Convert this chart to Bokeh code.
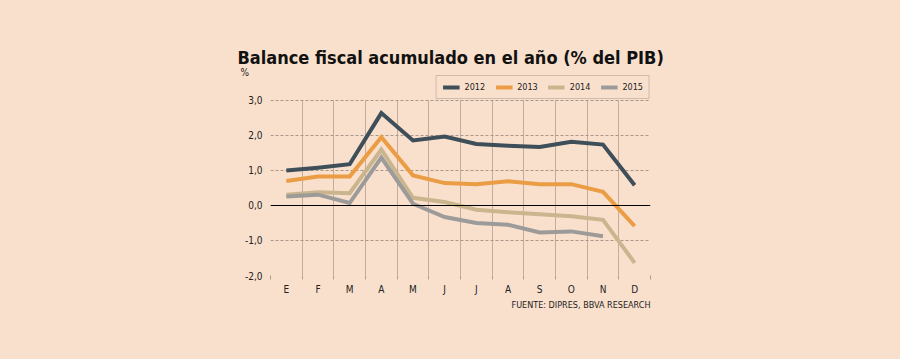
from bokeh.plotting import figure
from bokeh.models import FixedTicker, Span, Legend, LegendItem, Title
from bokeh.embed import file_html
from bokeh.resources import INLINE

months = ["E", "F", "M", "A", "M", "J", "J", "A", "S", "O", "N", "D"]
y2012 = [1.00, 1.08, 1.18, 2.64, 1.86, 1.97, 1.76, 1.71, 1.67, 1.82, 1.74, 0.58]
y2013 = [0.70, 0.83, 0.83, 1.95, 0.86, 0.64, 0.61, 0.69, 0.61, 0.61, 0.39, -0.59]
y2014 = [0.31, 0.38, 0.35, 1.60, 0.22, 0.10, -0.12, -0.19, -0.25, -0.31, -0.41, -1.64]
y2015 = [0.26, 0.31, 0.07, 1.37, 0.05, -0.33, -0.50, -0.55, -0.77, -0.74, -0.88]
yticks = [-2, -1, 0, 1, 2, 3]
ytick_labels = ["-2,0", "-1,0", "0,0", "1,0", "2,0", "3,0"]

series = [("2012", y2012, "#3e4f5a"), ("2013", y2013, "#eb9d45"),
          ("2014", y2014, "#c9b58e"), ("2015", y2015, "#9d9b9a")]

BG = "#f9e0cc"
FONT = "DejaVu Sans Condensed"
TXT = "#222222"

# frame spans the plotted area plus a strip on top that holds the legend
p = figure(frame_width=380, frame_height=200, x_range=(0, 12), y_range=(-2, 3.714),
           output_backend="svg", toolbar_location=None,
           min_border_left=270, min_border_right=250, min_border_top=75, min_border_bottom=84,
           background_fill_color=BG, border_fill_color=BG, outline_line_color=None)

xc = [i + 0.5 for i in range(12)]
items = []
for name, vals, col in series:
    r = p.line(xc[:len(vals)], vals, line_color=col, line_width=4, line_join="miter")
    items.append(LegendItem(label=name, renderers=[r]))

p.add_layout(Span(location=0, dimension="width", line_color="black", line_width=1.2))

# axes
p.xaxis.ticker = FixedTicker(ticks=xc, minor_ticks=list(range(13)))
p.xaxis.major_label_overrides = {x: m for x, m in zip(xc, months)}
p.xaxis.axis_line_color = None
p.xaxis.major_tick_line_color = None
p.xaxis.major_tick_out = 0
p.xaxis.major_tick_in = 0
p.xaxis.minor_tick_line_color = "#b09a8c"
p.xaxis.minor_tick_out = 4
p.xaxis.minor_tick_in = 0
p.xaxis.major_label_standoff = 4
p.xaxis.major_label_text_font = FONT
p.xaxis.major_label_text_font_size = "10px"
p.xaxis.major_label_text_color = TXT

p.yaxis.ticker = FixedTicker(ticks=yticks)
p.yaxis.major_label_overrides = {t: l for t, l in zip(yticks, ytick_labels)}
p.yaxis.axis_line_color = None
p.yaxis.major_tick_line_color = None
p.yaxis.major_tick_out = 0
p.yaxis.major_tick_in = 0
p.yaxis.minor_tick_line_color = None
p.yaxis.major_label_standoff = 8
p.yaxis.major_label_text_font = FONT
p.yaxis.major_label_text_font_size = "10px"
p.yaxis.major_label_text_color = TXT

p.xgrid.ticker = FixedTicker(ticks=list(range(13)))
p.xgrid.grid_line_color = "#c4ab9b"
p.xgrid.grid_line_width = 1
p.ygrid.grid_line_color = "#a8968a"
p.ygrid.grid_line_dash = "3 2"
p.ygrid.grid_line_width = 1
try:
    p.xgrid.cross_bounds = (-2, 3)
except Exception:
    pass

legend = Legend(items=items, orientation="horizontal", location="top_right",
                label_text_font=FONT, label_text_font_size="9px", label_text_color=TXT,
                glyph_width=17, glyph_height=10, spacing=10, padding=6, margin=0,
                label_standoff=5, border_line_color="#a8968a", border_line_width=1,
                background_fill_alpha=0)
p.add_layout(legend, "center")

p.add_layout(Title(text="%", align="left", offset=-30, text_font=FONT,
                   text_font_size="10px", text_font_style="normal", text_color=TXT,
                   text_line_height=0.9, standoff=-4), "above")
p.add_layout(Title(text="Balance fiscal acumulado en el año (% del PIB)", align="left",
                   offset=-33, text_font=FONT, text_font_size="18px",
                   text_font_style="bold", text_color="#111111", standoff=-2), "above")
p.add_layout(Title(text="FUENTE: DIPRES, BBVA RESEARCH", align="right", offset=0,
                   text_font=FONT, text_font_size="9px", text_font_style="normal",
                   text_color=TXT, standoff=0), "below")

html = file_html(p, INLINE)
html = html.replace("</head>", "<style>html, body { background: %s; }</style></head>" % BG, 1)
open("out.html", "w").write(html)
